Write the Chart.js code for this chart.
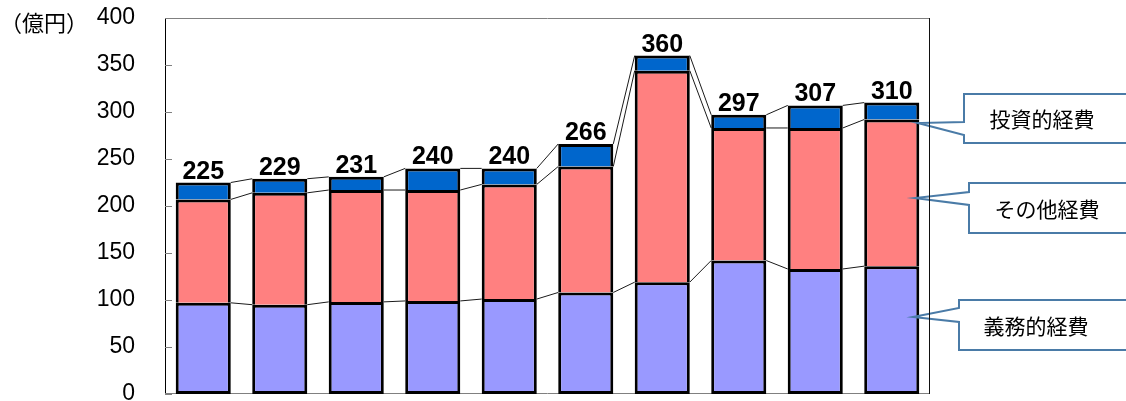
<!DOCTYPE html>
<html lang="ja">
<head>
<meta charset="utf-8">
<title>経費の推移</title>
<script src="https://cdn.jsdelivr.net/npm/chart.js@4.4.1/dist/chart.umd.min.js"></script>
<style>
  html, body { margin: 0; padding: 0; background: #fff; overflow: hidden; }
  #wrap { position: absolute; left: 0; top: 0; width: 1126px; height: 414px; }
</style>
</head>
<body>
<div id="wrap"><canvas id="c" width="1126" height="414"></canvas></div>
<script>
// 年度（軸ラベルは表示しない）
const categories = ['1', '2', '3', '4', '5', '6', '7', '8', '9', '10'];

// 経費の内訳（億円）
const mandatory = [97, 95, 98, 99, 101, 108, 119, 142, 133, 136];   // 義務的経費
const other     = [110, 119, 119, 118, 122, 134, 225, 141, 150, 156]; // その他経費
const investment = [18, 15, 14, 23, 17, 24, 16, 14, 24, 18];        // 投資的経費

// 縦軸
const yMin = 0, yMax = 400, yStep = 50;
const yUnit = '（億円）';

const seriesNames = ['義務的経費', 'その他経費', '投資的経費'];
const seriesColors = ['#9999FF', '#FF8080', '#0066CC'];

const CJK = '"Noto Sans CJK JP", "Noto Sans", sans-serif';
const LAT = '"Liberation Sans", Arial, sans-serif';

// 合計ラベル・区分線・枠・吹き出し
const decorations = {
  id: 'decorations',
  beforeDatasetsDraw(chart) {
    const { ctx, chartArea: a, scales: { y } } = chart;
    ctx.save();
    // 枠（上・下は灰色）
    ctx.strokeStyle = '#808080';
    ctx.lineWidth = 1;
    const l = Math.round(a.left), r = Math.round(a.right);
    const t = Math.round(a.top) + 0.5, b = Math.round(a.bottom) - 0.5;
    ctx.beginPath();
    ctx.moveTo(l, t); ctx.lineTo(r, t);
    ctx.moveTo(l, b); ctx.lineTo(r, b);
    ctx.stroke();
    // 内向きの目盛り
    for (let v = yMin; v <= yMax; v += yStep) {
      const py = Math.round(y.getPixelForValue(v)) + 0.5;
      ctx.beginPath();
      ctx.moveTo(a.left, py);
      ctx.lineTo(a.left + 7, py);
      ctx.stroke();
    }
    ctx.restore();
  },
  afterDatasetsDraw(chart) {
    const { ctx, scales: { y } } = chart;
    const bars = chart.getDatasetMeta(0).data;
    const n = bars.length;
    const cum = categories.map((_, i) => [
      mandatory[i],
      mandatory[i] + other[i],
      mandatory[i] + other[i] + investment[i]
    ]);
    ctx.save();
    // 区分線
    ctx.strokeStyle = '#1a1a1a';
    ctx.lineWidth = 1;
    for (let i = 0; i < n - 1; i++) {
      const b0 = bars[i], b1 = bars[i + 1];
      const x0 = b0.x + b0.width / 2;
      const x1 = b1.x - b1.width / 2;
      for (let k = 0; k < 3; k++) {
        ctx.beginPath();
        ctx.moveTo(x0, y.getPixelForValue(cum[i][k]));
        ctx.lineTo(x1, y.getPixelForValue(cum[i + 1][k]));
        ctx.stroke();
      }
    }
    // 合計値
    ctx.fillStyle = '#000';
    ctx.font = 'bold 25px ' + LAT;
    ctx.textAlign = 'center';
    ctx.textBaseline = 'alphabetic';
    for (let i = 0; i < n; i++) {
      const total = cum[i][2];
      ctx.fillText(String(total), bars[i].x, y.getPixelForValue(total) - 4);
    }
    ctx.restore();
  },
  afterDraw(chart) {
    const { ctx, chartArea: a, scales: { y } } = chart;
    ctx.save();
    // 単位
    ctx.fillStyle = '#000';
    ctx.font = '22px ' + CJK;
    ctx.textAlign = 'right';
    ctx.textBaseline = 'middle';
    ctx.fillText(yUnit, 88, y.getPixelForValue(yMax) + 5);

    // 吹き出し
    const callouts = [
      { text: seriesNames[2], left: 964, top: 94, bottom: 143, b0: 122, b1: 135, tx: 918, ty: 123, cx: 1042 },
      { text: seriesNames[1], left: 969, top: 183, bottom: 233, b0: 192, b1: 205, tx: 915, ty: 198, cx: 1047 },
      { text: seriesNames[0], left: 959, top: 300, bottom: 350, b0: 308, b1: 322, tx: 913, ty: 317, cx: 1036 }
    ];
    const right = 1134;
    for (const c of callouts) {
      ctx.fillStyle = '#fff';
      ctx.fillRect(c.left, c.top, right - c.left, c.bottom - c.top);
      ctx.beginPath();
      ctx.moveTo(c.left, c.top);
      ctx.lineTo(right, c.top);
      ctx.lineTo(right, c.bottom);
      ctx.lineTo(c.left, c.bottom);
      ctx.lineTo(c.left, c.b1);
      ctx.lineTo(c.tx, c.ty);
      ctx.lineTo(c.left, c.b0);
      ctx.closePath();
      ctx.strokeStyle = '#4A7BA7';
      ctx.lineWidth = 2;
      ctx.stroke();
      ctx.fillStyle = '#000';
      ctx.font = '21px ' + CJK;
      ctx.textAlign = 'center';
      ctx.textBaseline = 'middle';
      ctx.fillText(c.text, c.cx, (c.top + c.bottom) / 2 + 1);
    }

    // 右枠
    ctx.strokeStyle = '#111';
    ctx.lineWidth = 1;
    const rx = Math.round(a.right) - 0.5;
    ctx.beginPath();
    ctx.moveTo(rx, a.top);
    ctx.lineTo(rx, a.bottom);
    ctx.stroke();
    ctx.restore();
  }
};

const datasetValues = [mandatory, other, investment];

new Chart(document.getElementById('c'), {
  type: 'bar',
  data: {
    labels: categories,
    datasets: datasetValues.map((vals, i) => ({
      label: seriesNames[i],
      data: vals,
      backgroundColor: seriesColors[i],
      borderColor: '#000',
      borderWidth: 3,
      borderSkipped: i === 0 ? false : 'start',
      barPercentage: 0.72,
      categoryPercentage: 1.0
    }))
  },
  options: {
    responsive: false,
    animation: false,
    events: [],
    layout: { padding: { left: 0, right: 196, top: 18, bottom: 20 } },
    plugins: {
      legend: { display: false },
      tooltip: { enabled: false },
      title: { display: false }
    },
    scales: {
      x: {
        stacked: true,
        display: false
      },
      y: {
        stacked: true,
        min: yMin,
        max: yMax,
        grid: { display: false, drawTicks: false },
        border: { display: true, color: '#000', width: 1 },
        ticks: {
          stepSize: yStep,
          padding: 30,
          color: '#000',
          font: { family: LAT, size: 23 }
        },
        afterFit(scale) {
          scale.width = 165;
          scale.paddingTop = 12;
          scale.paddingBottom = 12;
        }
      }
    }
  },
  plugins: [decorations]
});
</script>
</body>
</html>
